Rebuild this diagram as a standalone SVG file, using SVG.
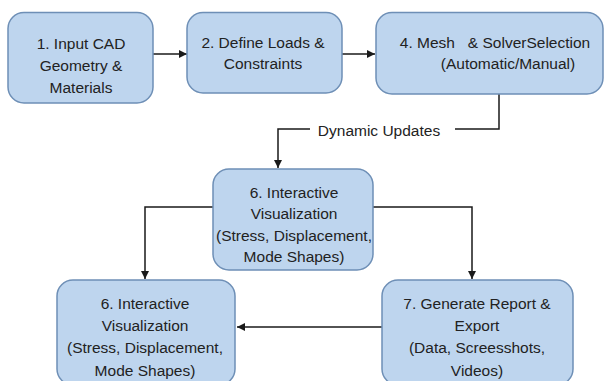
<svg xmlns="http://www.w3.org/2000/svg" width="605" height="381" viewBox="0 0 605 381">
<defs>
<style>
.box{fill:#bed5ee;stroke:#6e8fb6;stroke-width:1.5}
.t{font-family:"Liberation Sans",Arial,sans-serif;font-size:15.5px;fill:#222;text-anchor:middle;white-space:pre}
.c{fill:none;stroke:#1a1a1a;stroke-width:1.5}
</style>
<marker id="ah" viewBox="0 0 10 10" refX="10" refY="5" markerWidth="8" markerHeight="8" markerUnits="userSpaceOnUse" orient="auto">
<path d="M0,0 L10,5 L0,10 z" fill="#1a1a1a"/>
</marker>
</defs>
<rect width="605" height="381" fill="#ffffff"/>
<g id="connectors">
<path class="c" d="M153,54 H187" marker-end="url(#ah)"/>
<path class="c" d="M342,54 H375" marker-end="url(#ah)"/>
<path class="c" d="M499,94 V129 H455"/>
<path class="c" d="M310,129 H278 V168" marker-end="url(#ah)"/>
<text class="t" x="379" y="136">Dynamic Updates</text>
<path class="c" d="M213,207 H145 V279" marker-end="url(#ah)"/>
<path class="c" d="M373,207 H472 V279" marker-end="url(#ah)"/>
<path class="c" d="M382,327 H237" marker-end="url(#ah)"/>
</g>
<g id="n1">
<rect class="box" x="8" y="12.5" width="145" height="90.5" rx="16"/>
<text class="t" x="81" y="48.5">1. Input CAD</text>
<text class="t" x="81" y="70.5">Geometry &amp;</text>
<text class="t" x="81" y="92.5">Materials</text>
</g>
<g id="n2">
<rect class="box" x="187" y="12.5" width="155" height="80.5" rx="16"/>
<text class="t" x="263" y="47.5">2. Define Loads &amp;</text>
<text class="t" x="263" y="68.5">Constraints</text>
</g>
<g id="n4">
<rect class="box" x="376" y="12.5" width="227" height="81.5" rx="16"/>
<text class="t" x="495" y="47.5">4. Mesh   &amp; SolverSelection</text>
<text class="t" x="508" y="68.5">(Automatic/Manual)</text>
</g>
<g id="n6a">
<rect class="box" x="213" y="169" width="160" height="101" rx="16"/>
<text class="t" x="294" y="197.5">6. Interactive</text>
<text class="t" x="294" y="218.5">Visualization</text>
<text class="t" x="294" y="240.5">(Stress, Displacement,</text>
<text class="t" x="294" y="261.5">Mode Shapes)</text>
</g>
<g id="n6b">
<rect class="box" x="57" y="280" width="178" height="105" rx="16"/>
<text class="t" x="145" y="308.5">6. Interactive</text>
<text class="t" x="145" y="330.5">Visualization</text>
<text class="t" x="145" y="352.5">(Stress, Displacement,</text>
<text class="t" x="145" y="375.5">Mode Shapes)</text>
</g>
<g id="n7">
<rect class="box" x="382" y="280" width="191" height="105" rx="16"/>
<text class="t" x="477" y="308.5">7. Generate Report &amp;</text>
<text class="t" x="477" y="330.5">Export</text>
<text class="t" x="477" y="352.5">(Data, Screesshots,</text>
<text class="t" x="477" y="375.5">Videos)</text>
</g>
</svg>
